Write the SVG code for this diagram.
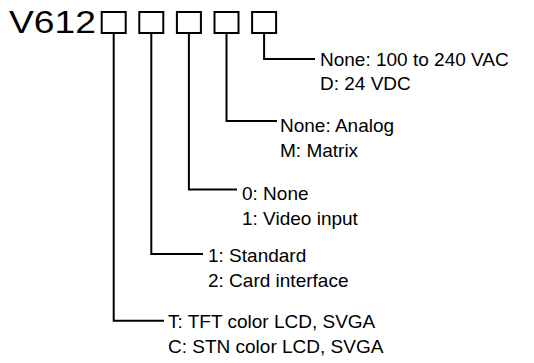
<svg xmlns="http://www.w3.org/2000/svg" width="534" height="363" viewBox="0 0 534 363">
<style>
text{font-family:"Liberation Sans",Arial,sans-serif;fill:#000}
.t{font-size:19px}
.ttl{font-size:31px}
.box{fill:none;stroke:#000;stroke-width:2}
.ln{fill:none;stroke:#000;stroke-width:2}
</style>
<rect width="534" height="363" fill="#fff"/>
<g id="title">
<text class="ttl" x="9" y="33" textLength="87" lengthAdjust="spacingAndGlyphs">V612</text>
<rect class="box" x="101.7" y="12" width="24" height="21"/>
<rect class="box" x="139.3" y="12" width="24" height="21"/>
<rect class="box" x="176.9" y="12" width="24" height="21"/>
<rect class="box" x="214.5" y="12" width="24" height="21"/>
<rect class="box" x="252.1" y="12" width="24" height="21"/>
</g>
<g id="connectors">
<polyline class="ln" points="264.1,33 264.1,59 315,59"/>
<polyline class="ln" points="226.5,33 226.5,121 277,121"/>
<polyline class="ln" points="188.9,33 188.9,189.5 237,189.5"/>
<polyline class="ln" points="151.3,33 151.3,254 203,254"/>
<polyline class="ln" points="113.7,33 113.7,320.7 164,320.7"/>
</g>
<g id="opt5">
<text class="t" x="320" y="66">None: 100 to 240 VAC</text>
<text class="t" x="320" y="90">D: 24 VDC</text>
</g>
<g id="opt4">
<text class="t" x="280" y="132">None: Analog</text>
<text class="t" x="280" y="157">M: Matrix</text>
</g>
<g id="opt3">
<text class="t" x="242" y="200">0: None</text>
<text class="t" x="242" y="225">1: Video input</text>
</g>
<g id="opt2">
<text class="t" x="208" y="262">1: Standard</text>
<text class="t" x="208" y="287">2: Card interface</text>
</g>
<g id="opt1">
<text class="t" x="168" y="328">T: TFT color LCD, SVGA</text>
<text class="t" x="168" y="353">C: STN color LCD, SVGA</text>
</g>
</svg>
